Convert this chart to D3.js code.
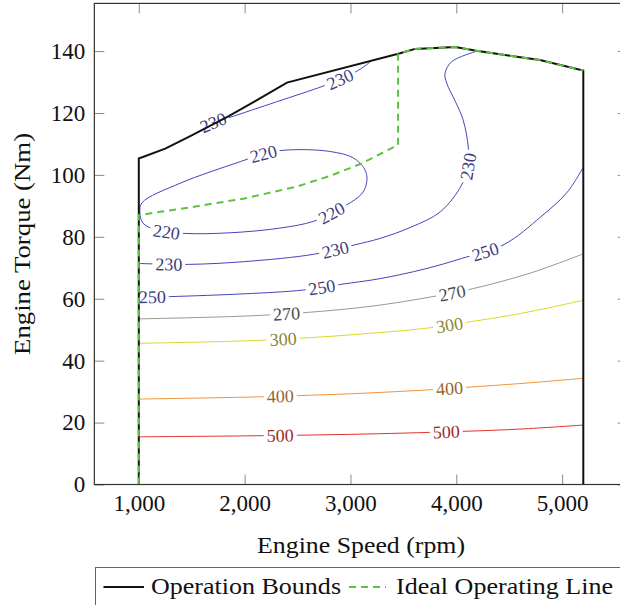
<!DOCTYPE html>
<html>
<head>
<meta charset="utf-8">
<script src="https://cdn.jsdelivr.net/npm/d3@7"></script>
<style>
  body { margin: 0; background: #fff; }
  svg { display: block; }
  text { font-family: "Liberation Serif", "DejaVu Serif", serif; }
</style>
</head>
<body>
<div id="chart"></div>
<script>
// axis ticks
var xTicks = [1000, 2000, 3000, 4000, 5000];
var yTicks = [0, 20, 40, 60, 80, 100, 120, 140];

// operation bounds (rpm, Nm)
var bounds = [[1000, 0], [1000, 105.3], [1250, 108.5], [1500, 112.8], [1850, 119], [2100, 123.8],
              [2400, 129.8], [3470, 139.3], [3610, 140.7], [3990, 141.3], [4190, 140.1],
              [4790, 137.1], [5200, 133.7], [5200, 0]];

// ideal operating line
var ideal = [[1000, 0], [1000, 87], [1500, 89.6], [2000, 92.4], [2500, 96.3], [2800, 99.6],
             [3100, 103.6], [3450, 109.7], [3450, 139.1], [3610, 140.7], [3990, 141.3],
             [4190, 140.1], [4790, 137.1], [5200, 133.7]];

// contour lines of specific fuel consumption (g/kWh)
var c500 = [[1000, 15.4], [2000, 15.7], [3000, 16.2], [4000, 17.1], [4600, 17.9], [5200, 19.2]];
var c400 = [[1000, 27.6], [2000, 28.2], [2500, 28.7], [3000, 29.3], [3700, 30.5], [4100, 31.4],
            [4600, 32.6], [5200, 34.3]];
var c300 = [[1000, 45.6], [2000, 46.4], [2550, 47.3], [3100, 48.6], [3750, 50.6], [4100, 52.4],
            [4600, 55.2], [5200, 59.5]];
var c270 = [[1000, 53.5], [2000, 54.4], [2600, 55.6], [3200, 57.6], [3780, 60.7], [4150, 63.2],
            [4700, 68.3], [5200, 74.5]];
var c250 = [[1000, 60.5], [1300, 60.7], [2000, 61.6], [2550, 62.8], [2900, 64.6], [3280, 66.5],
            [3700, 69.6], [4050, 73], [4450, 77.5], [4800, 86.5], [5050, 94.5], [5200, 102.5]];
var c230 = [[1000, 71.4], [1470, 71.1], [2000, 72], [2660, 74.4], [3040, 77.4], [3280, 79.5],
            [3570, 83.1], [3850, 88.1], [4050, 96.7], [4113, 103], [4113, 109], [4065, 117.7],
            [3990, 123.8], [3910, 129.6], [3893, 132.8], [3957, 136.6], [4180, 139.8]];
var c230top = [[1600, 115], [1705, 116.9], [1862, 118.6], [2300, 123.6], [2743, 128.7],
               [2904, 130.9], [3090, 134.1], [3186, 136.5]];
var c220 = [[1030, 91], [1390, 97.3], [1960, 104.3], [2180, 106.8], [2380, 108], [2800, 107.6],
            [3040, 105.2], [3150, 100.5], [3120, 94.5], [2850, 88.2], [2650, 85], [2330, 82.8],
            [1860, 81.3], [1440, 81.1], [1170, 82.2], [1040, 84.4], [1010, 88]];

// where the level labels sit (rpm, Nm)
var lab500 = [[2336, 15.7], [3906, 17]];
var lab400 = [[2336, 28.5], [3935, 31]];
var lab300 = [[2365, 46.8], [3935, 51.5]];
var lab270 = [[2400, 55], [3961, 61.9]];
var lab250 = [[1127, 60.5], [2733, 63.6], [4267, 75.8]];
var lab230 = [[1283, 71.2], [2859, 75.8], [4118, 102.7]];
var lab230top = [[1705, 116.9], [2904, 130.9]];
var lab220 = [[2178, 106.8], [2823, 87.6], [1264, 81.7]];

var contours = [
  {level: 500, pts: c500, labels: lab500, line: "#e4322b", text: "#9c2c2c"},
  {level: 400, pts: c400, labels: lab400, line: "#f7923a", text: "#9a642e"},
  {level: 300, pts: c300, labels: lab300, line: "#dcd82a", text: "#8a8638"},
  {level: 270, pts: c270, labels: lab270, line: "#9a9a8c", text: "#4a4a4a"},
  {level: 250, pts: c250, labels: lab250, line: "#4545bb", text: "#3c3c7e"},
  {level: 230, pts: c230, labels: lab230, line: "#4545bb", text: "#3c3c7e"},
  {level: 230, pts: c230top, labels: lab230top, line: "#4545bb", text: "#3c3c7e"},
  {level: 220, pts: c220, labels: lab220, line: "#4545bb", text: "#3c3c7e", closed: true}
];

var W = 620, H = 605;
var svg = d3.select("#chart").append("svg").attr("width", W).attr("height", H);

var x = d3.scaleLinear().domain([580, 5620]).range([94.35, 627.75]);
var y = d3.scaleLinear().domain([0, 155.4]).range([484.5, 3.4]);

var line = d3.line().x(function(d) { return x(d[0]); }).y(function(d) { return y(d[1]); });
var smooth = d3.line().x(function(d) { return x(d[0]); }).y(function(d) { return y(d[1]); })
  .curve(d3.curveCatmullRom.alpha(0.5));
var smoothClosed = d3.line().x(function(d) { return x(d[0]); }).y(function(d) { return y(d[1]); })
  .curve(d3.curveCatmullRomClosed.alpha(0.5));

var lineLayer = svg.append("g");
var labelLayer = svg.append("g");

// put a label on the path nearest to the target point, turned along the line
function placeLabel(node, target, txt, color) {
  var tx = x(target[0]), ty = y(target[1]);
  var L = node.getTotalLength(), best = 0, bd = Infinity;
  for (var s = 0; s <= L; s += 0.5) {
    var p = node.getPointAtLength(s);
    var d = (p.x - tx) * (p.x - tx) + (p.y - ty) * (p.y - ty);
    if (d < bd) { bd = d; best = s; }
  }
  var p0 = node.getPointAtLength(Math.max(0, best - 7));
  var p1 = node.getPointAtLength(Math.min(L, best + 7));
  var ang = Math.atan2(p1.y - p0.y, p1.x - p0.x) * 180 / Math.PI;
  if (ang > 90) ang -= 180;
  if (ang < -90) ang += 180;
  var pc = node.getPointAtLength(best);
  var gl = labelLayer.append("g")
    .attr("transform", "translate(" + pc.x + "," + pc.y + ") rotate(" + ang + ")");
  var rect = gl.append("rect").attr("fill", "#fff");
  var t = gl.append("text")
    .attr("text-anchor", "middle")
    .attr("dy", "0.34em")
    .attr("font-size", 18)
    .attr("fill", color)
    .text(txt);
  var w = t.node().getComputedTextLength();
  rect.attr("x", -w / 2 - 3).attr("y", -7).attr("width", w + 6).attr("height", 14);
}

contours.forEach(function(c) {
  var path = lineLayer.append("path")
    .attr("d", (c.closed ? smoothClosed : smooth)(c.pts))
    .attr("fill", "none")
    .attr("stroke", c.line)
    .attr("stroke-width", 1);
  c.labels.forEach(function(lp) {
    placeLabel(path.node(), lp, c.level, c.text);
  });
});

// bounds and ideal operating line
svg.append("path")
  .attr("d", line(bounds))
  .attr("fill", "none")
  .attr("stroke", "#111")
  .attr("stroke-width", 2);

svg.append("path")
  .attr("d", line(ideal))
  .attr("fill", "none")
  .attr("stroke", "#5cc23f")
  .attr("stroke-width", 2)
  .attr("stroke-dasharray", "7,5");

// axes
function styleAxis(g, showText) {
  g.select(".domain").remove();
  g.selectAll(".tick line").attr("stroke", "#8a8a8a").attr("stroke-width", 1);
  g.attr("font-family", null);
  g.selectAll(".tick text")
    .attr("font-size", 23)
    .attr("fill", "#111");
  if (!showText) g.selectAll(".tick text").remove();
}

svg.append("g")
  .attr("transform", "translate(0," + y(0) + ")")
  .call(d3.axisBottom(x).tickValues(xTicks).tickFormat(d3.format(","))
    .tickSizeInner(-10).tickSizeOuter(0).tickPadding(10))
  .call(styleAxis, true);

svg.append("g")
  .attr("transform", "translate(0," + y(155.4) + ")")
  .call(d3.axisTop(x).tickValues(xTicks).tickSizeInner(-10).tickSizeOuter(0))
  .call(styleAxis, false);

svg.append("g")
  .attr("transform", "translate(" + x(580) + ",0)")
  .call(d3.axisLeft(y).tickValues(yTicks).tickSizeInner(-10).tickSizeOuter(0).tickPadding(9))
  .call(styleAxis, true);

svg.append("g")
  .attr("transform", "translate(" + x(5620) + ",0)")
  .call(d3.axisRight(y).tickValues(yTicks).tickSizeInner(-10).tickSizeOuter(0))
  .call(styleAxis, false);

// frame
svg.append("rect")
  .attr("x", x(580)).attr("y", y(155.4))
  .attr("width", x(5620) - x(580)).attr("height", y(0) - y(155.4))
  .attr("fill", "none")
  .attr("stroke", "#333")
  .attr("stroke-width", 1.2);

// axis titles
svg.append("text")
  .attr("x", (x(580) + x(5620)) / 2)
  .attr("y", 553)
  .attr("text-anchor", "middle")
  .attr("font-size", 24)
  .attr("fill", "#111")
  .attr("textLength", 208)
  .attr("lengthAdjust", "spacingAndGlyphs")
  .text("Engine Speed (rpm)");

svg.append("text")
  .attr("transform", "translate(30," + ((y(0) + y(155.4)) / 2) + ") rotate(-90)")
  .attr("text-anchor", "middle")
  .attr("font-size", 24)
  .attr("fill", "#111")
  .attr("textLength", 222)
  .attr("lengthAdjust", "spacingAndGlyphs")
  .text("Engine Torque (Nm)");

// legend
var leg = svg.append("g");
leg.append("rect")
  .attr("x", 95.5).attr("y", 567.5)
  .attr("width", 560).attr("height", 60)
  .attr("fill", "#fff")
  .attr("stroke", "#666")
  .attr("stroke-width", 1);
leg.append("line")
  .attr("x1", 103.5).attr("x2", 144).attr("y1", 587).attr("y2", 587)
  .attr("stroke", "#111").attr("stroke-width", 2);
leg.append("text")
  .attr("x", 151).attr("y", 594)
  .attr("font-size", 24).attr("fill", "#111")
  .attr("textLength", 190)
  .attr("lengthAdjust", "spacingAndGlyphs")
  .text("Operation Bounds");
leg.append("line")
  .attr("x1", 349).attr("x2", 386).attr("y1", 587).attr("y2", 587)
  .attr("stroke", "#5cc23f").attr("stroke-width", 2).attr("stroke-dasharray", "7,5");
leg.append("text")
  .attr("x", 396).attr("y", 594)
  .attr("font-size", 24).attr("fill", "#111")
  .attr("textLength", 217)
  .attr("lengthAdjust", "spacingAndGlyphs")
  .text("Ideal Operating Line");
</script>
</body>
</html>
